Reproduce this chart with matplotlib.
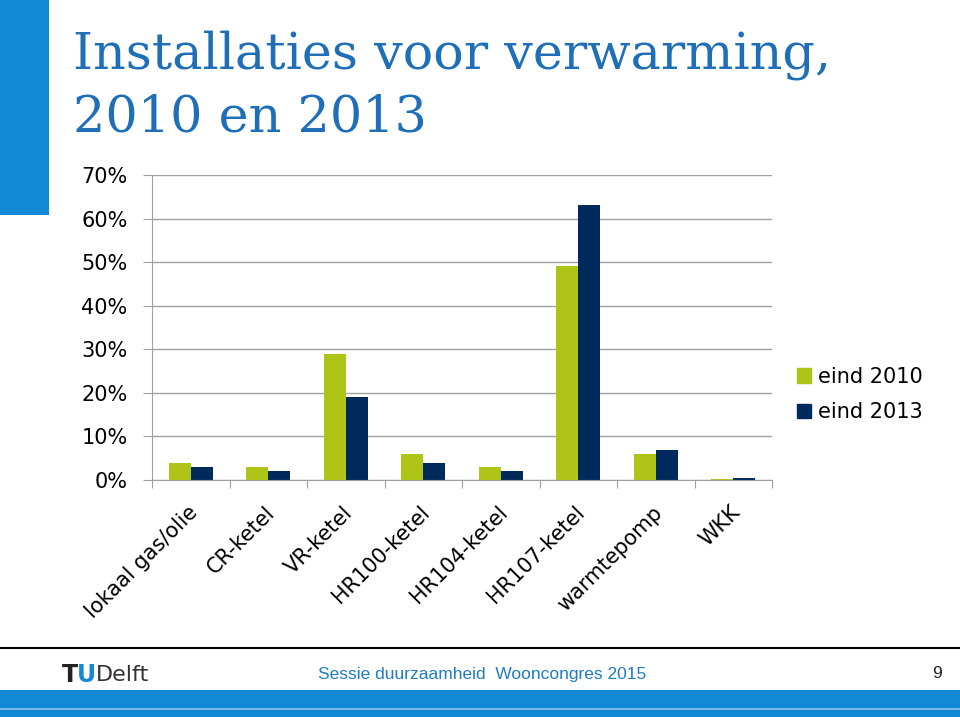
import matplotlib.pyplot as plt
import numpy as np
from matplotlib.patches import Rectangle, Patch
from matplotlib.lines import Line2D

categories = ['lokaal gas/olie', 'CR-ketel', 'VR-ketel', 'HR100-ketel',
              'HR104-ketel', 'HR107-ketel', 'warmtepomp', 'WKK']
eind_2010 = [4, 3, 29, 6, 3, 49, 6, 0.3]
eind_2013 = [3, 2, 19, 4, 2, 63, 7, 0.4]
series_labels = ['eind 2010', 'eind 2013']
yticks = [0, 10, 20, 30, 40, 50, 60, 70]

green = '#AEC417'
navy = '#002A5C'
blue = '#1389D6'
title_blue = '#1E6EB8'

fig = plt.figure(figsize=(9.6, 7.17), dpi=100)

# decorations of the slide
fig.patches.append(Rectangle((0, 1 - 215/717), 49/960, 215/717, transform=fig.transFigure,
                             facecolor=blue, edgecolor='none'))
fig.patches.append(Rectangle((0, 0), 1, 27/717, transform=fig.transFigure,
                             facecolor=blue, edgecolor='none'))
fig.lines.append(Line2D([0, 1], [1 - 709/717, 1 - 709/717], transform=fig.transFigure,
                        color='#8CC6EE', lw=1.2))
fig.lines.append(Line2D([0, 1], [1 - 648/717, 1 - 648/717], transform=fig.transFigure,
                        color='black', lw=1.5))

fig.text(73/960, 1 - 68/717, 'Installaties voor verwarming,', family='DejaVu Serif',
         fontsize=36.5, color=title_blue, va='baseline', ha='left')
fig.text(73/960, 1 - 132/717, '2010 en 2013', family='DejaVu Serif',
         fontsize=36.5, color=title_blue, va='baseline', ha='left')

ax = fig.add_axes([152/960, 1 - 480/717, 620/960, 305/717])
x = np.arange(len(categories))
w = 0.284
ax.bar(x - w/2, eind_2010, w, color=green, label=series_labels[0])
ax.bar(x + w/2, eind_2013, w, color=navy, label=series_labels[1])
ax.set_xlim(-0.5, len(categories) - 0.5)
ax.set_ylim(0, 70)
ax.set_yticks(yticks)
ax.set_yticklabels([f'{v}%' for v in yticks], fontsize=15)
ax.yaxis.grid(True, color='#A0A0A0', lw=1)
ax.set_axisbelow(True)
for s in ['top', 'right']:
    ax.spines[s].set_visible(False)
ax.spines['left'].set_color('#A0A0A0')
ax.spines['bottom'].set_color('#A0A0A0')
ax.tick_params(axis='y', length=6.5, color='#A0A0A0', pad=11)
ax.set_xticks(np.arange(len(categories) + 1) - 0.5, minor=False)
ax.set_xticklabels([])
ax.tick_params(axis='x', length=6, color='#A0A0A0')
for i, c in enumerate(categories):
    ax.annotate(c, xy=(i, 0), xycoords='data', xytext=(-2.5, -16), textcoords='offset points',
                rotation=45, ha='right', va='top', rotation_mode='anchor', fontsize=15)

handles = [Patch(color=green), Patch(color=navy)]
fig.legend(handles, series_labels, loc='upper left', bbox_to_anchor=(778/960, 1 - 348/717),
           frameon=False, fontsize=15, handlelength=0.7, handleheight=0.7, handletextpad=0.3,
           labelspacing=0.75)

# footer
fig.text(62/960, 1 - 675/717, 'T', fontsize=17, fontweight='bold', color='#222222', va='center')
fig.text(77/960, 1 - 675/717, 'U', fontsize=17, fontweight='bold', color=blue, va='center')
fig.text(96/960, 1 - 675/717, 'Delft', fontsize=16, color='#333333', va='center')
fig.text(318/960, 1 - 675/717, 'Sessie duurzaamheid  Wooncongres 2015', family='Liberation Sans',
         fontsize=12.5, color='#1F7CC0', va='center')
fig.text(942/960, 1 - 673/717, '9', family='Liberation Sans', fontsize=12.5, color='#222222',
         va='center', ha='right')

fig.savefig('out.png', dpi=100)
